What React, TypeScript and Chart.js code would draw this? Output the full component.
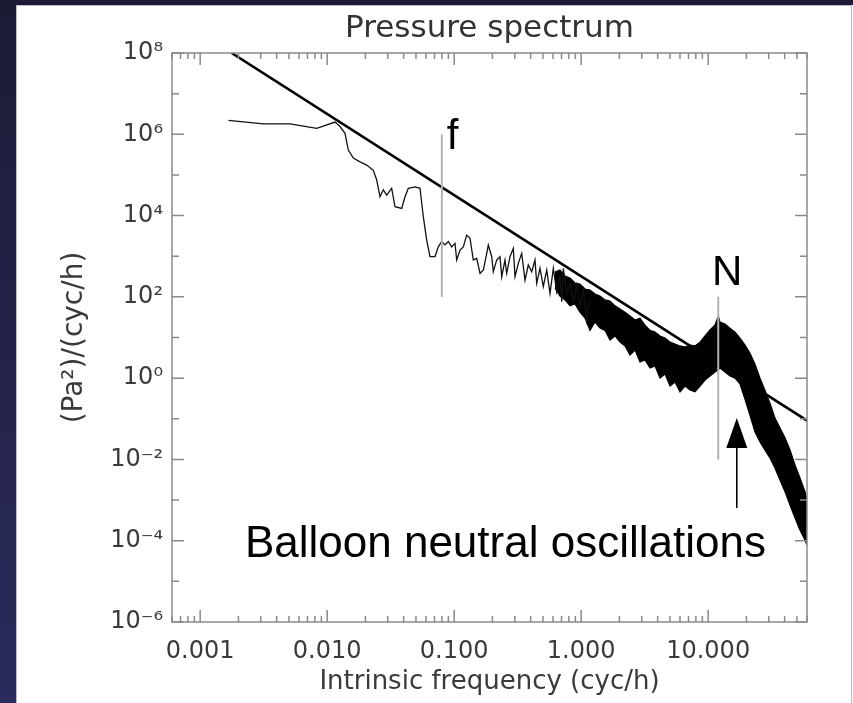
import React, { useEffect, useRef } from 'react';
import { Chart, registerables } from 'chart.js';

Chart.register(...registerables);

const W = 853;
const H = 703;

// Axis ranges and tick labels
const xMin = 0.0006;
const xMax = 60;
const yMin = 1e-6;
const yMax = 1e8;
const xTickValues = [0.001, 0.01, 0.1, 1, 10];
const yTickExponents = [8, 6, 4, 2, 0, -2, -4, -6];

// Thin noisy spectrum (low-frequency part)
const spectrumFreq = [
  0.00167, 0.00314, 0.0051, 0.00827, 0.01153, 0.01262, 0.01382, 0.01467, 0.01606, 0.01813,
  0.02048, 0.02308, 0.02455, 0.02606, 0.02767, 0.02943, 0.0322, 0.0342, 0.03863, 0.04101,
  0.04354, 0.04916, 0.05383, 0.05713, 0.06075, 0.06451, 0.07064, 0.07499, 0.07974, 0.08468,
  0.08991, 0.09563, 0.1015, 0.1047, 0.1112, 0.118, 0.1255, 0.1333, 0.1415, 0.1505,
  0.1598, 0.1697, 0.1805, 0.1857, 0.1975, 0.2033, 0.2162, 0.2296, 0.2368, 0.2513,
  0.2592, 0.2752, 0.2922, 0.3013, 0.3199, 0.3401, 0.3611, 0.3834, 0.4078, 0.433,
  0.4466, 0.4741, 0.5032, 0.5354, 0.5685, 0.6034, 0.6417, 0.6813, 0.7027, 0.7233,
  0.7693, 0.8169, 0.867, 0.9222, 0.979, 1.039, 1.105, 1.159,
];
const spectrumPower = [
  2.2e6, 1.8e6, 1.8e6, 1.4e6, 2.0e6, 1.55e6, 1.06e6, 4.1e5, 2.6e5, 2.1e5,
  1.75e5, 1.3e5, 7.5e4, 2.9e4, 4.3e4, 3.2e4, 4.7e4, 1.65e4, 1.5e4, 2.9e4,
  4.7e4, 5.1e4, 4.7e4, 9.4e3, 2.5e3, 980, 980, 1.7e3, 2.3e3, 1.9e3,
  2.3e3, 1.7e3, 2.07e3, 805, 1.42e3, 1.7e3, 3.3e3, 2.76e3, 805, 887,
  379, 457, 1.18e3, 1.89e3, 973, 416, 805, 973, 313, 805,
  379, 973, 1.56e3, 313, 668, 1.18e3, 259, 607, 416, 805,
  215, 504, 178, 457, 122, 504, 134, 313, 76, 504,
  122, 215, 76, 195, 57, 147, 26.9, 83.6,
];

// Dense high-frequency part: upper and lower envelope of the noise band
const bandFreq = [
  0.6223, 0.6813, 0.7459, 0.8169, 0.8942, 0.979, 1.072, 1.174, 1.285, 1.407,
  1.54, 1.687, 1.847, 2.022, 2.214, 2.424, 2.654, 2.906, 3.182, 3.483,
  3.814, 4.176, 4.573, 5.006, 5.482, 6.0, 6.57, 7.193, 7.876, 8.624,
  9.443, 10.34, 11.32, 12.02, 12.39, 13.57, 14.86, 16.27, 17.81, 19.5,
  21.35, 23.38, 25.6, 28.03, 30.69, 33.6, 36.78, 40.27, 44.09, 48.28,
  52.86, 57.87, 60,
];
const bandUpper = [
  408, 458, 326, 291, 219, 207, 156, 147, 118, 105,
  84, 79, 60, 50, 42, 34, 27, 30, 20, 15,
  13.6, 10.9, 9.7, 7.7, 6.9, 6.2, 5.8, 6.5, 6.2, 7.7,
  10.9, 15.3, 20.3, 33.8, 24, 21.5, 17, 13.6, 9.7, 6.5,
  4.1, 2.2, 1.0, 0.5, 0.24, 0.104, 0.059, 0.034, 0.017, 0.0073,
  0.0035, 0.0016, 0.001,
];
const bandLower = [
  165, 105, 84, 60, 67, 42, 30, 15, 24, 17,
  15, 8.7, 10.9, 7.7, 6.2, 3.7, 4.9, 2.5, 2.8, 1.77,
  2.0, 1.0, 1.26, 0.64, 0.8, 0.46, 0.64, 0.51, 0.46, 0.64,
  0.9, 1.13, 1.41, 1.6, 1.77, 1.41, 1.13, 1.0, 0.72, 0.3,
  0.12, 0.047, 0.027, 0.017, 0.0108, 0.0061, 0.0031, 0.0016, 7.6e-4, 3.6e-4,
  1.8e-4, 1.04e-4, 7.8e-5,
];

// Reference power law (straight line on log-log axes)
const powerLawFreq = [0.00177, 60];
const powerLawValue = [1e8, 0.09];

// Marker lines: inertial frequency f and buoyancy frequency N
const fFreq = 0.08;
const fRange = [1e2, 1e6];
const nFreq = 12.0;
const nRange = [1e-2, 1e2];

// Arrow pointing at the balloon oscillation peak
const arrowFreq = 16.8;
const arrowRange = [6.4e-4, 0.104];

const annotationText = 'Balloon neutral oscillations';
const annotationFreq = 0.00225;
const annotationValue = 4e-5;

const SUP: Record<string, string> = {
  '-': '\u207B', '0': '\u2070', '1': '\u00B9', '2': '\u00B2', '3': '\u00B3',
  '4': '\u2074', '5': '\u2075', '6': '\u2076', '7': '\u2077', '8': '\u2078', '9': '\u2079',
};
const sup = (s: string) => s.split('').map((c) => SUP[c] || c).join('');

const AXIS_FONT = "'DejaVu Sans', sans-serif";
const ANNOT_FONT = "'Liberation Sans', Arial, sans-serif";

const pts = (xs: number[], ys: number[]) => xs.map((x, i) => ({ x, y: ys[i] }));

const decorPlugin = {
  id: 'decor',
  beforeDraw(chart: any) {
    const ctx = chart.ctx as CanvasRenderingContext2D;
    ctx.save();
    const g = ctx.createLinearGradient(0, 0, 0, H);
    g.addColorStop(0, '#1b1b36');
    g.addColorStop(1, '#2b2b5d');
    ctx.fillStyle = g;
    ctx.fillRect(0, 0, W, H);
    ctx.fillStyle = '#ffffff';
    ctx.fillRect(16, 5, W - 16, H - 5);
    ctx.strokeStyle = '#b9b9c9';
    ctx.lineWidth = 1;
    ctx.strokeRect(16.5, 5.5, W - 18, H);
    ctx.restore();
  },
  afterDatasetsDraw(chart: any) {
    const ctx = chart.ctx as CanvasRenderingContext2D;
    const { left, right, top, bottom } = chart.chartArea;
    const xs = chart.scales.x;
    const ys = chart.scales.y;
    ctx.save();
    // frame
    ctx.strokeStyle = '#8a8a8a';
    ctx.lineWidth = 1.5;
    ctx.strokeRect(left, top, right - left, bottom - top);
    // inward ticks
    ctx.beginPath();
    for (let e = -4; e <= 1; e++) {
      for (let m = 1; m <= 9; m++) {
        const v = m * Math.pow(10, e);
        if (v < xMin * 0.999 || v > xMax * 1.001) continue;
        const px = xs.getPixelForValue(v);
        const len = m === 1 ? 12 : 6;
        ctx.moveTo(px, bottom);
        ctx.lineTo(px, bottom - len);
        ctx.moveTo(px, top);
        ctx.lineTo(px, top + len);
      }
    }
    for (let e = -6; e <= 8; e++) {
      const py = ys.getPixelForValue(Math.pow(10, e));
      const len = e % 2 === 0 ? 12 : 7;
      ctx.moveTo(left, py);
      ctx.lineTo(left + len, py);
      ctx.moveTo(right, py);
      ctx.lineTo(right - len, py);
    }
    ctx.stroke();

    // arrow
    const ax = xs.getPixelForValue(arrowFreq);
    const aTip = ys.getPixelForValue(arrowRange[1]);
    const aEnd = ys.getPixelForValue(arrowRange[0]);
    ctx.strokeStyle = '#000';
    ctx.lineWidth = 1.6;
    ctx.beginPath();
    ctx.moveTo(ax, aEnd);
    ctx.lineTo(ax, aTip + 20);
    ctx.stroke();
    ctx.fillStyle = '#000';
    ctx.beginPath();
    ctx.moveTo(ax, aTip);
    ctx.lineTo(ax - 10.5, aTip + 30);
    ctx.lineTo(ax + 10.5, aTip + 30);
    ctx.closePath();
    ctx.fill();

    // annotation texts
    ctx.fillStyle = '#000';
    ctx.font = `42px ${ANNOT_FONT}`;
    ctx.textBaseline = 'alphabetic';
    ctx.textAlign = 'left';
    ctx.fillText('f', xs.getPixelForValue(fFreq) + 5, ys.getPixelForValue(fRange[1]) + 15);
    ctx.textAlign = 'center';
    ctx.fillText('N', xs.getPixelForValue(nFreq) + 9, ys.getPixelForValue(nRange[1]) - 12);
    ctx.textAlign = 'left';
    ctx.font = `44px ${ANNOT_FONT}`;
    ctx.fillText(annotationText, xs.getPixelForValue(annotationFreq), ys.getPixelForValue(annotationValue));
    ctx.restore();
  },
};

export default function App() {
  const ref = useRef<HTMLCanvasElement | null>(null);

  useEffect(() => {
    if (!ref.current) return;
    const chart = new Chart(ref.current, {
      type: 'line',
      data: {
        datasets: [
          {
            label: 'f',
            data: [{ x: fFreq, y: fRange[0] }, { x: fFreq, y: fRange[1] }],
            borderColor: '#b3b3b3',
            borderWidth: 2,
            pointRadius: 0,
            fill: false,
          },
          {
            label: 'N',
            data: [{ x: nFreq, y: nRange[0] }, { x: nFreq, y: nRange[1] }],
            borderColor: '#b3b3b3',
            borderWidth: 2,
            pointRadius: 0,
            fill: false,
          },
          {
            label: 'power law',
            data: pts(powerLawFreq, powerLawValue),
            borderColor: '#000',
            borderWidth: 2.6,
            pointRadius: 0,
            fill: false,
          },
          {
            label: 'spectrum',
            data: pts(spectrumFreq, spectrumPower),
            borderColor: '#111',
            borderWidth: 1.3,
            pointRadius: 0,
            fill: false,
          },
          {
            label: 'band upper',
            data: pts(bandFreq, bandUpper),
            borderColor: '#000',
            borderWidth: 1.2,
            pointRadius: 0,
            backgroundColor: '#000',
            fill: '+1',
          },
          {
            label: 'band lower',
            data: pts(bandFreq, bandLower),
            borderColor: '#000',
            borderWidth: 1.2,
            pointRadius: 0,
            fill: false,
          },
        ],
      },
      options: {
        responsive: false,
        animation: false,
        devicePixelRatio: 1,
        events: [],
        layout: { padding: { left: 0, right: 46, top: 0, bottom: 0 } },
        elements: { line: { tension: 0 } },
        plugins: {
          legend: { display: false },
          tooltip: { enabled: false },
          title: {
            display: true,
            fullSize: false,
            text: 'Pressure spectrum',
            color: '#333',
            font: { family: AXIS_FONT, size: 31, weight: 'normal' },
            padding: { top: 9.9, bottom: 5.9 },
          },
        },
        scales: {
          x: {
            type: 'logarithmic',
            min: xMin,
            max: xMax,
            grid: { display: false, drawTicks: false },
            border: { display: false },
            afterBuildTicks: (s: any) => {
              s.ticks = xTickValues.map((v) => ({ value: v }));
            },
            afterFit: (s: any) => {
              s.height = 81;
            },
            ticks: {
              autoSkip: false,
              maxRotation: 0,
              color: '#3a3a3a',
              font: { family: AXIS_FONT, size: 24 },
              padding: 15,
              callback: (v: any) => Number(v).toFixed(3),
            },
            title: {
              display: true,
              text: 'Intrinsic frequency (cyc/h)',
              color: '#3a3a3a',
              font: { family: AXIS_FONT, size: 26 },
              padding: { top: 0, bottom: 5.4 },
            },
          },
          y: {
            type: 'logarithmic',
            min: yMin,
            max: yMax,
            grid: { display: false, drawTicks: false },
            border: { display: false },
            afterBuildTicks: (s: any) => {
              s.ticks = yTickExponents.map((e) => ({ value: Math.pow(10, e) }));
            },
            afterFit: (s: any) => {
              s.width = 172;
            },
            ticks: {
              autoSkip: false,
              color: '#3a3a3a',
              font: { family: AXIS_FONT, size: 24 },
              padding: 9,
              callback: (v: any) => '10' + sup(String(Math.round(Math.log10(Number(v))))),
            },
            title: {
              display: true,
              text: '(Pa\u00B2)/(cyc/h)',
              color: '#3a3a3a',
              font: { family: AXIS_FONT, size: 28 },
              padding: { top: 58, bottom: 0 },
            },
          },
        },
      },
      plugins: [decorPlugin],
    } as any);
    return () => chart.destroy();
  }, []);

  return (
    <canvas
      ref={ref}
      width={W}
      height={H}
      style={{ position: 'absolute', left: 0, top: 0, width: W, height: H }}
    />
  );
}
